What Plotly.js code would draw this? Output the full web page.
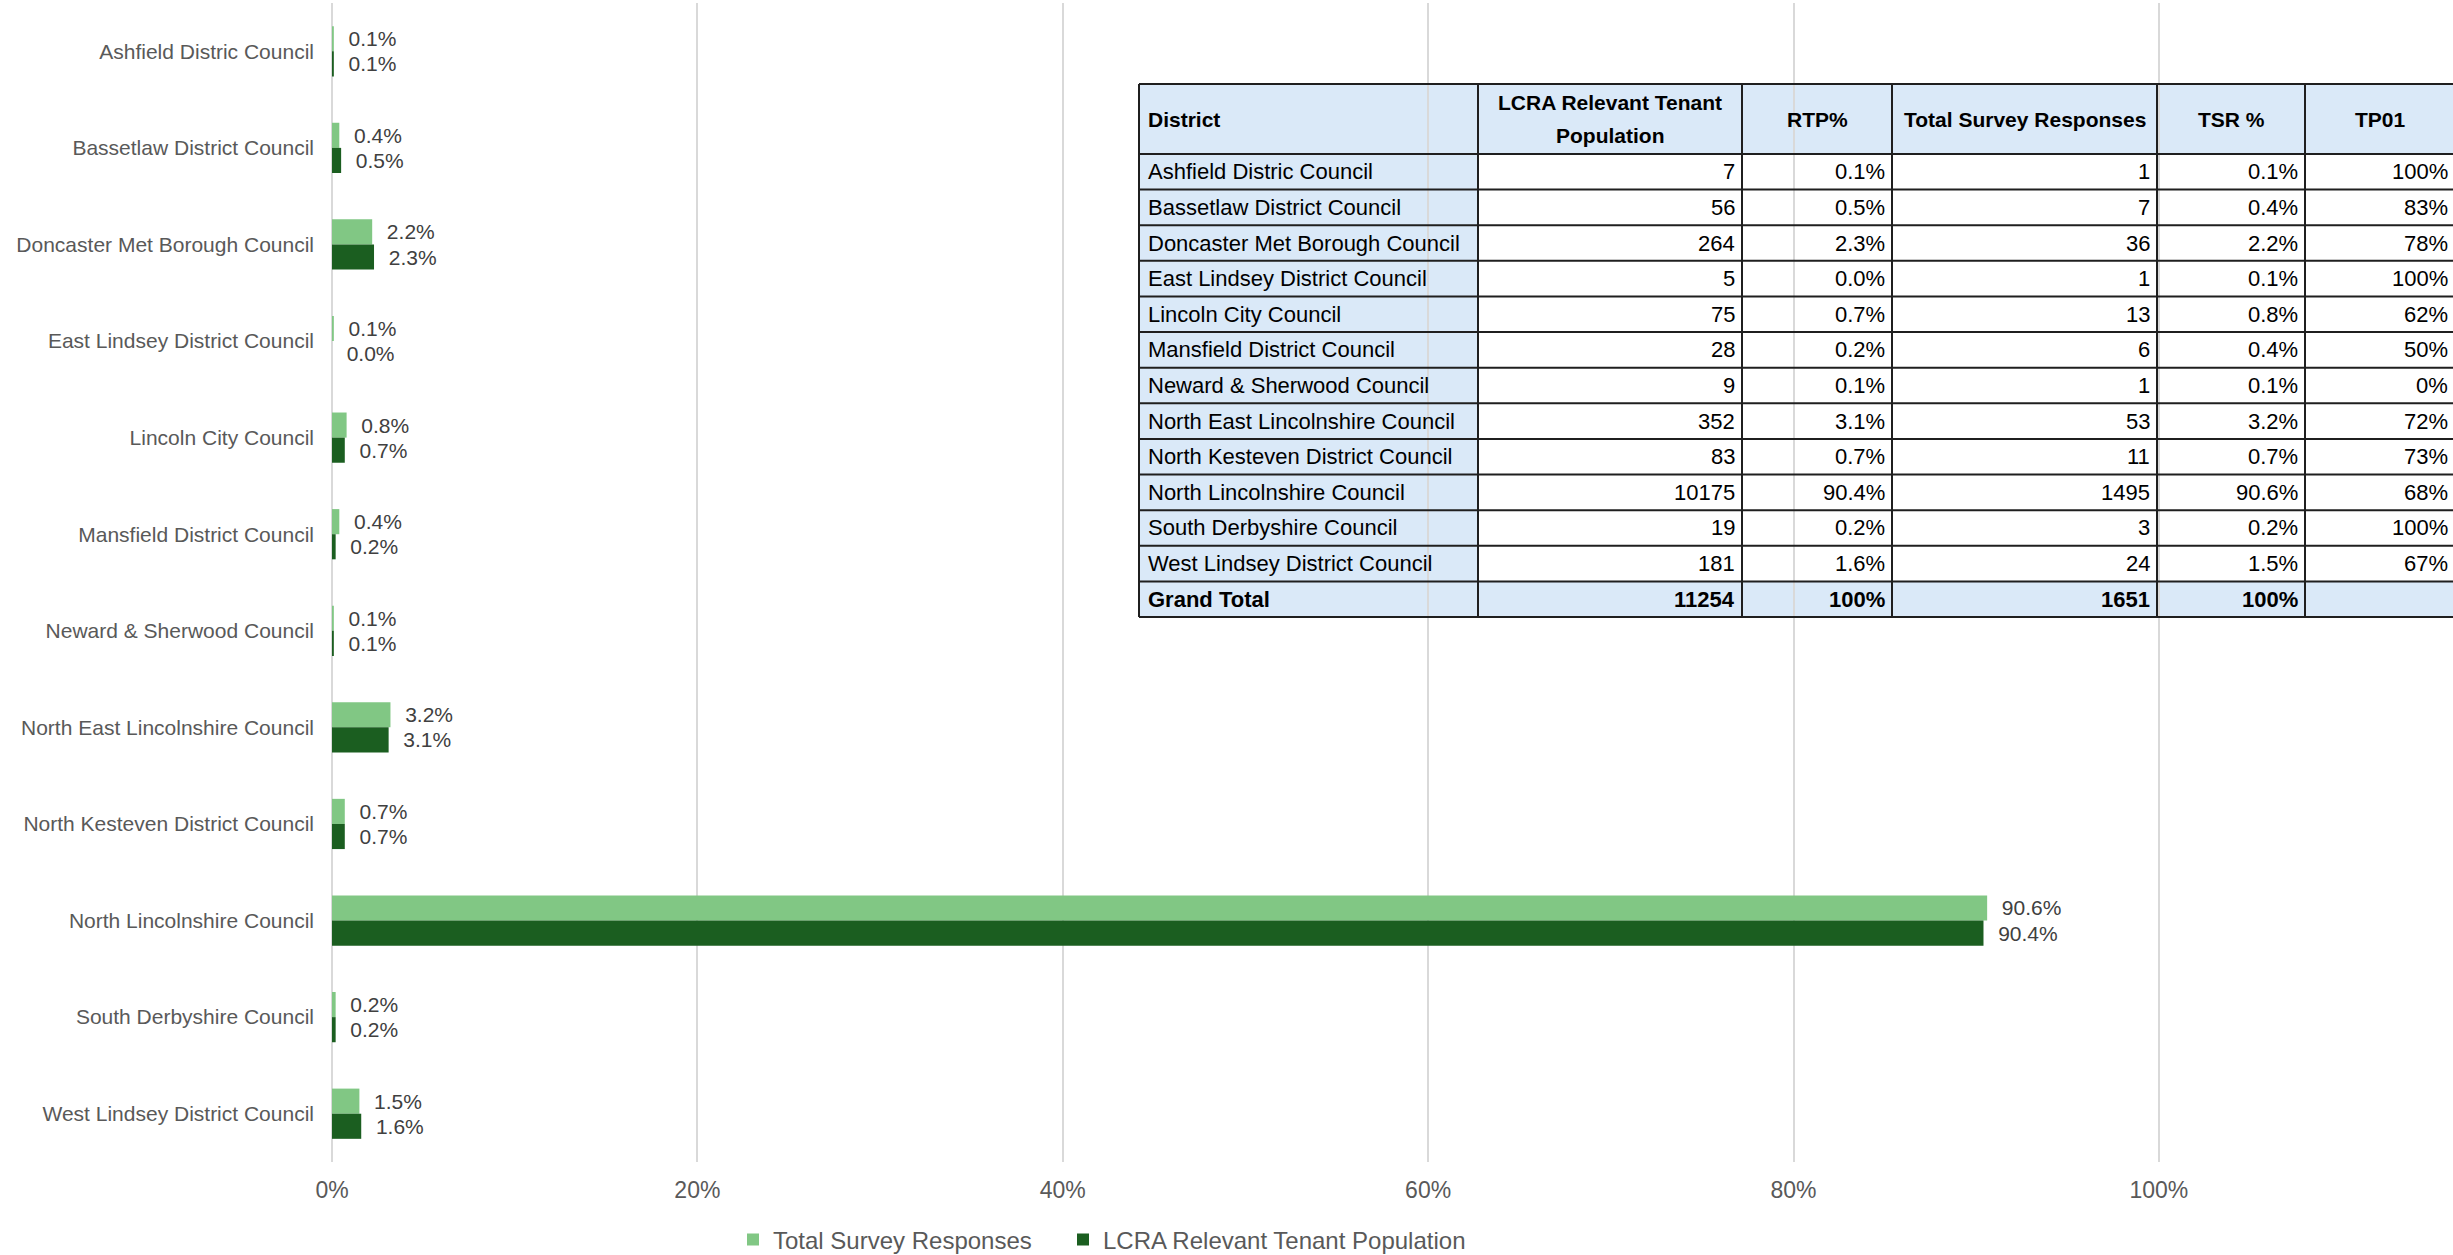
<!DOCTYPE html>
<html><head><meta charset="utf-8">
<script src="https://cdn.plot.ly/plotly-3.0.1.min.js"></script>
<style>html,body{margin:0;padding:0;background:#fff;} #chart{width:2453px;height:1255px;}</style>
</head><body><div id="chart"></div>
<script>
// ---------- DATA ----------
const districts = [
  'Ashfield Distric Council',
  'Bassetlaw District Council',
  'Doncaster Met Borough Council',
  'East Lindsey District Council',
  'Lincoln City Council',
  'Mansfield District Council',
  'Neward & Sherwood Council',
  'North East Lincolnshire Council',
  'North Kesteven District Council',
  'North Lincolnshire Council',
  'South Derbyshire Council',
  'West Lindsey District Council'
];
const tenantPopulation = [7, 56, 264, 5, 75, 28, 9, 352, 83, 10175, 19, 181];
const rtpPct = [0.001, 0.005, 0.023, 0.000, 0.007, 0.002, 0.001, 0.031, 0.007, 0.904, 0.002, 0.016];
const surveyResponses = [1, 7, 36, 1, 13, 6, 1, 53, 11, 1495, 3, 24];
const tsrPct = [0.001, 0.004, 0.022, 0.001, 0.008, 0.004, 0.001, 0.032, 0.007, 0.906, 0.002, 0.015];
const tp01Pct = [1.00, 0.83, 0.78, 1.00, 0.62, 0.50, 0.00, 0.72, 0.73, 0.68, 1.00, 0.67];
const tableHeaders = ['District', 'LCRA Relevant Tenant<br>Population', 'RTP%', 'Total Survey Responses', 'TSR %', 'TP01'];
const grandTotalLabel = 'Grand Total';
const grandTotalPct = '100%';
const seriesNames = ['Total Survey Responses', 'LCRA Relevant Tenant Population'];
const xTickVals = [0, 0.2, 0.4, 0.6, 0.8, 1.0];

// ---------- STYLE / GEOMETRY ----------
const FONT = 'Liberation Sans, Arial, sans-serif';
const LIGHT = '#81C784', DARK = '#1B5E20';
const PLOT_L = 332, PLOT_W = 2121, PLOT_T = 3, PLOT_H = 1159, PLOT_B = PLOT_T + PLOT_H;
const px2x = p => (p - PLOT_L) / PLOT_W;
const px2y = p => (PLOT_B - p) / PLOT_H;
const colEdges = [1139, 1478, 1742, 1892, 2157, 2305, 2455];
const headerTop = 84, headerBottom = 154, tableBottom = 617;
const headerLineGap = 33;
const TABLE_FILL = '#DAE9F8', TABLE_LINE = '#1f1f1f';

const pct1 = v => (v * 100).toFixed(1) + '%';
const pct0 = v => Math.round(v * 100) + '%';

// ---------- TRACES ----------
const labelTpl = '\u00a0\u00a0%{x:.1%}';
function barTrace(name, values, color, legendId) {
  return {
    type: 'bar', orientation: 'h', name: name, legend: legendId,
    y: districts, x: values,
    marker: { color: color, line: { width: 0 } },
    texttemplate: labelTpl, textposition: 'outside', constraintext: 'none',
    cliponaxis: false, textfont: { family: FONT, size: 21, color: '#404040' },
    hoverinfo: 'skip'
  };
}
const traces = [
  barTrace(seriesNames[0], tsrPct, LIGHT, 'legend'),
  barTrace(seriesNames[1], rtpPct, DARK, 'legend2')
];

// ---------- TABLE (shapes + annotations) ----------
const rows = districts.map((d, i) => [
  d, String(tenantPopulation[i]), pct1(rtpPct[i]),
  String(surveyResponses[i]), pct1(tsrPct[i]), pct0(tp01Pct[i])
]);
const totalRow = [
  grandTotalLabel,
  String(tenantPopulation.reduce((a, b) => a + b, 0)),
  grandTotalPct,
  String(surveyResponses.reduce((a, b) => a + b, 0)),
  grandTotalPct,
  ''
];
const nBody = rows.length + 1;
const rowH = (tableBottom - headerBottom) / nBody;
const tableLeft = colEdges[0], tableRight = colEdges[colEdges.length - 1];

const shapes = [];
const annotations = [];
function rectShape(x0, y0, x1, y1, fill) {
  shapes.push({ type: 'rect', xref: 'paper', yref: 'paper', layer: 'below',
    x0: px2x(x0), x1: px2x(x1), y0: px2y(y1), y1: px2y(y0),
    fillcolor: fill, line: { width: 0 } });
}
rectShape(tableLeft, headerTop, tableRight, headerBottom, TABLE_FILL);
rectShape(colEdges[0], headerBottom, colEdges[1], headerBottom + rows.length * rowH, TABLE_FILL);
rectShape(tableLeft, headerBottom + rows.length * rowH, tableRight, tableBottom, TABLE_FILL);
const hLines = [headerTop, headerBottom];
for (let i = 1; i <= nBody; i++) hLines.push(headerBottom + i * rowH);
hLines.forEach(y => shapes.push({ type: 'line', xref: 'paper', yref: 'paper', layer: 'above',
  x0: px2x(tableLeft), x1: px2x(tableRight), y0: px2y(y), y1: px2y(y),
  line: { color: TABLE_LINE, width: 2 } }));
colEdges.forEach(x => shapes.push({ type: 'line', xref: 'paper', yref: 'paper', layer: 'above',
  x0: px2x(x), x1: px2x(x), y0: px2y(headerTop), y1: px2y(tableBottom),
  line: { color: TABLE_LINE, width: 2 } }));

function cellText(text, col, yCenter, bold, isHeader) {
  if (text === '') return;
  let x, anchor;
  if (col === 0) { x = colEdges[0] + 7; anchor = 'left'; }
  else if (isHeader) { x = (colEdges[col] + colEdges[col + 1]) / 2; anchor = 'center'; }
  else { x = colEdges[col + 1] - 5; anchor = 'right'; }
  const lines = text.split('<br>');
  lines.forEach((ln, k) => {
    const yc = yCenter + (k - (lines.length - 1) / 2) * headerLineGap;
    annotations.push({ xref: 'paper', yref: 'paper', x: px2x(x), y: px2y(yc),
      xanchor: anchor, yanchor: 'middle', showarrow: false,
      text: bold ? '<b>' + ln + '</b>' : ln,
      font: { family: FONT, size: isHeader ? 21 : 22, color: '#000000' } });
  });
}
tableHeaders.forEach((h, c) => cellText(h, c, (headerTop + headerBottom) / 2, true, true));
rows.forEach((r, i) => r.forEach((t, c) => cellText(t, c, headerBottom + (i + 0.5) * rowH, false, false)));
totalRow.forEach((t, c) => cellText(t, c, headerBottom + (rows.length + 0.5) * rowH, true, false));

// ---------- LAYOUT ----------
const legendBase = {
  orientation: 'h', xanchor: 'left', y: px2y(1240), yanchor: 'middle',
  font: { family: FONT, size: 24, color: '#595959' },
  bgcolor: 'rgba(0,0,0,0)', borderwidth: 0
};
const layout = {
  width: 2453, height: 1255,
  margin: { l: PLOT_L, r: 0, t: PLOT_T, b: 1255 - PLOT_B, pad: 0, autoexpand: false },
  paper_bgcolor: '#ffffff', plot_bgcolor: 'rgba(0,0,0,0)',
  font: { family: FONT, color: '#595959' },
  barmode: 'group', bargap: 0.48, bargroupgap: 0,
  showlegend: true,
  legend: Object.assign({}, legendBase, { x: px2x(733) }),
  legend2: Object.assign({}, legendBase, { x: px2x(1063) }),
  xaxis: {
    range: [0, 1.161], tickvals: xTickVals, tickformat: '.0%',
    showgrid: true, gridcolor: '#d9d9d9', gridwidth: 2,
    zeroline: true, zerolinecolor: '#d9d9d9', zerolinewidth: 2,
    showline: false, ticks: '', ticklabelstandoff: 12,
    tickfont: { family: FONT, size: 23, color: '#595959' },
    automargin: false, fixedrange: true
  },
  yaxis: {
    type: 'category', autorange: 'reversed',
    showgrid: false, zeroline: false, showline: false, ticks: '',
    ticklabelstandoff: 17,
    tickfont: { family: FONT, size: 21, color: '#595959' },
    automargin: false, fixedrange: true
  },
  shapes: shapes,
  annotations: annotations
};

Plotly.newPlot('chart', traces, layout, { displayModeBar: false, staticPlot: true });
</script>
</body></html>
